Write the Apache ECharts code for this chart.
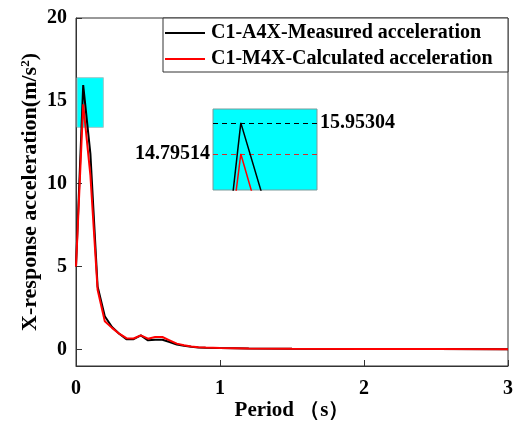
<!DOCTYPE html>
<html><head><meta charset="utf-8">
<script src="https://cdn.jsdelivr.net/npm/echarts@6/dist/echarts.min.js"></script>
<style>html,body{margin:0;padding:0;background:#fff}#c{width:516px;height:421px}</style>
</head><body><div id="c"></div>
<script>
var periods    = [0, 0.05, 0.1, 0.15, 0.2, 0.25, 0.3, 0.35, 0.4, 0.45, 0.5, 0.55, 0.6, 0.65, 0.7, 0.75, 0.8, 0.85, 0.9, 1.0, 1.2, 1.5, 2.0, 2.5, 3.0];
var measured   = [5.0, 15.95304, 11.8, 3.8, 2.0, 1.35, 0.95, 0.62, 0.62, 0.85, 0.55, 0.58, 0.58, 0.45, 0.3, 0.22, 0.16, 0.12, 0.1, 0.08, 0.06, 0.04, 0.03, 0.02, 0.01];
var calculated = [5.0, 14.79514, 10.5, 3.6, 1.7, 1.3, 0.95, 0.68, 0.66, 0.85, 0.65, 0.75, 0.75, 0.55, 0.35, 0.25, 0.18, 0.13, 0.11, 0.08, 0.06, 0.04, 0.03, 0.02, 0.01];
var yTicks = [0, 5, 10, 15, 20];
var seriesNames = ['C1-A4X-Measured acceleration', 'C1-M4X-Calculated acceleration'];
var peakMeasured = 15.95304, peakCalculated = 14.79514;
var zoomBox = {x0: 0.007, x1: 0.19, y0: 13.4, y1: 16.4};
var insetRange = {x0: 0.008, x1: 0.165, y0: 13.45, y1: 16.47};

function pairs(ys){ return periods.map(function(x,i){ return [x, ys[i]]; }); }
var font = '"Liberation Serif", "Times New Roman", serif';
var chart = echarts.init(document.getElementById('c'));
chart.setOption({
  backgroundColor: '#fff',
  animation: false,
  graphic: [{
    type: 'rect', shape: {x: 163, y: 18, width: 345, height: 54},
    style: {fill: '#fff', stroke: '#333', lineWidth: 1}, z: 5
  }],
  legend: {
    data: seriesNames.map(function(n){ return {name: n, icon: 'rect'}; }),
    orient: 'vertical', left: 163, top: 21, z: 10,
    itemWidth: 40, itemHeight: 2, itemGap: 6, padding: [2, 2, 2, 2],
    textStyle: {fontFamily: font, fontWeight: 'bold', fontSize: 20, color: '#000', padding: [0, 0, 0, 1]}
  },
  grid: [
    {left: 76, top: 18, width: 432, height: 348, show: true, borderColor: '#333', borderWidth: 1, containLabel: false, outerBoundsMode: 'none'},
    {left: 213, top: 109, width: 104, height: 81, show: true, backgroundColor: '#00FFFF', borderColor: '#7a9a9a', borderWidth: 1, z: 4, outerBoundsMode: 'none'}
  ],
  xAxis: [
    {gridIndex: 0, type: 'value', min: 0, max: 3, interval: 1,
     name: 'Period （s）', nameLocation: 'middle', nameGap: 34, nameMoveOverlap: false,
     nameTextStyle: {fontFamily: font, fontWeight: 'bold', fontSize: 21, color: '#000'},
     axisLine: {onZero: false, lineStyle: {color: '#333', width: 1}},
     axisTick: {inside: true, length: 6, lineStyle: {color: '#333'}},
     axisLabel: {margin: 13, fontFamily: font, fontWeight: 'bold', fontSize: 20, color: '#000'},
     splitLine: {show: false}},
    {gridIndex: 1, type: 'value', min: insetRange.x0, max: insetRange.x1, show: false, splitLine: {show: false}}
  ],
  yAxis: [
    {gridIndex: 0, type: 'value', min: -1, max: 20,
     name: 'X-response acceleration(m/s{sup|2})', nameLocation: 'middle', nameGap: 35, nameRotate: 90, nameMoveOverlap: false,
     nameTextStyle: {fontFamily: font, fontWeight: 'bold', fontSize: 22, color: '#000',
       rich: {sup: {fontFamily: font, fontWeight: 'bold', fontSize: 13, color: '#000', verticalAlign: 'top', padding: [0,0,8,0]}}},
     axisLine: {show: true, onZero: false, lineStyle: {color: '#333', width: 1}},
     axisTick: {show: true, inside: true, length: 6, customValues: yTicks, lineStyle: {color: '#333'}},
     axisLabel: {margin: 9, customValues: yTicks, fontFamily: font, fontWeight: 'bold', fontSize: 20, color: '#000'},
     splitLine: {show: false}},
    {gridIndex: 1, type: 'value', min: insetRange.y0, max: insetRange.y1, show: false, splitLine: {show: false}}
  ],
  series: [
    {name: seriesNames[0], type: 'line', xAxisIndex: 0, yAxisIndex: 0, data: pairs(measured),
     symbol: 'none', lineStyle: {color: '#000', width: 2}, itemStyle: {color: '#000'}, z: 3,
     markArea: {silent: true, itemStyle: {color: '#00FFFF', borderColor: '#a0c8c8', borderWidth: 1},
       data: [[{coord: [zoomBox.x0, zoomBox.y0]}, {coord: [zoomBox.x1, zoomBox.y1]}]]}},
    {name: seriesNames[1], type: 'line', xAxisIndex: 0, yAxisIndex: 0, data: pairs(calculated),
     symbol: 'none', lineStyle: {color: '#ff0000', width: 2}, itemStyle: {color: '#ff0000'}, z: 4},
    {name: 'inset-measured', type: 'line', xAxisIndex: 1, yAxisIndex: 1, data: pairs(measured), clip: true,
     symbol: 'none', lineStyle: {color: '#000', width: 1.5}, z: 6,
     markLine: {silent: true, symbol: 'none', lineStyle: {color: '#000', type: [5, 4], width: 1},
       label: {position: 'end', formatter: String(peakMeasured), fontFamily: font, fontWeight: 'bold', fontSize: 20, color: '#000', distance: 3},
       data: [{yAxis: peakMeasured}]}},
    {name: 'inset-calculated', type: 'line', xAxisIndex: 1, yAxisIndex: 1, data: pairs(calculated), clip: true,
     symbol: 'none', lineStyle: {color: '#ff0000', width: 1.5}, z: 6,
     markLine: {silent: true, symbol: 'none', lineStyle: {color: '#d03030', type: [5, 4], width: 1},
       label: {position: 'start', formatter: String(peakCalculated), fontFamily: font, fontWeight: 'bold', fontSize: 20, color: '#000', distance: 3},
       data: [{yAxis: peakCalculated}]}}
  ]
});
</script></body></html>
